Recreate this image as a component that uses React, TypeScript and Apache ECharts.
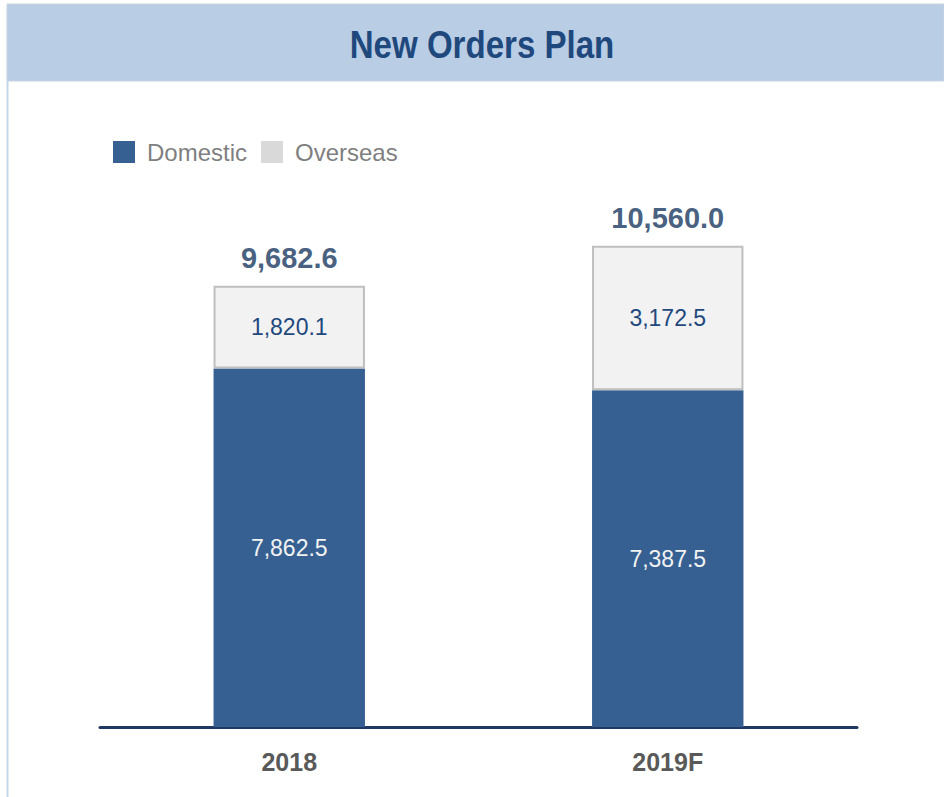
import React, { useEffect, useRef } from "react";
import * as echarts from "echarts";

const categories = ["2018", "2019F"];
const domestic = [7862.5, 7387.5];
const overseas = [1820.1, 3172.5];
const totals = [9682.6, 10560.0];
const titleText = "New Orders Plan";

const FONT = '"Liberation Sans", Arial, sans-serif';

const fmt = (v: number) =>
  v.toLocaleString("en-US", { minimumFractionDigits: 1, maximumFractionDigits: 1 });

export default function App() {
  const ref = useRef<HTMLDivElement>(null);
  useEffect(() => {
    if (!ref.current) return;
    const chart = echarts.init(ref.current, null, { renderer: "svg" });
    chart.setOption({
      animation: false,
      backgroundColor: "#ffffff",
      graphic: [
        {
          type: "rect",
          shape: { x: 7, y: 4, width: 937, height: 77 },
          style: { fill: "#b9cde5", stroke: "#c9d3de", lineWidth: 1 },
          z: 0,
        },
        {
          type: "line",
          shape: { x1: 7.5, y1: 81, x2: 7.5, y2: 797 },
          style: { stroke: "#c5d6ea", lineWidth: 2 },
        },
        {
          type: "text",
          x: 482,
          y: 45,
          scaleX: 0.87,
          style: {
            text: titleText,
            fill: "#1f497d",
            font: `bold 38px ${FONT}`,
            textAlign: "center",
            textVerticalAlign: "middle",
          },
          z: 10,
        },
      ],
      legend: {
        left: 108,
        top: 135,
        itemWidth: 22,
        itemHeight: 22,
        itemGap: 14,
        icon: "rect",
        textStyle: {
          fontFamily: FONT,
          fontSize: 24,
          color: "#7f7f7f",
          padding: [0, 0, 0, 7],
        },
        data: [
          { name: "Domestic", itemStyle: { color: "#366092" } },
          { name: "Overseas", itemStyle: { color: "#d9d9d9", borderWidth: 0 } },
        ],
      },
      grid: { left: 100, right: 87, top: 180, bottom: 70 },
      xAxis: {
        type: "category",
        data: categories,
        axisLine: { lineStyle: { color: "#1f3864", width: 3 } },
        axisTick: { show: false },
        axisLabel: {
          fontFamily: FONT,
          fontWeight: "bold",
          fontSize: 25,
          color: "#595959",
          margin: 22,
        },
      },
      yAxis: {
        type: "value",
        min: 0,
        max: 12000,
        show: false,
        splitLine: { show: false },
      },
      series: [
        {
          name: "Domestic",
          type: "bar",
          stack: "total",
          barWidth: "40%",
          data: domestic,
          itemStyle: { color: "#366092" },
          label: {
            show: true,
            position: "inside",
            formatter: (p: any) => fmt(p.value),
            fontFamily: FONT,
            fontSize: 23,
            color: "#f2f2f2",
          },
          z: 2,
        },
        {
          name: "Overseas",
          type: "bar",
          stack: "total",
          barWidth: "40%",
          data: overseas,
          itemStyle: { color: "#f2f2f2", borderColor: "#bfbfbf", borderWidth: 2 },
          label: {
            show: true,
            position: "inside",
            formatter: (p: any) => fmt(p.value),
            fontFamily: FONT,
            fontSize: 23,
            color: "#1f497d",
          },
          z: 2,
        },
        {
          name: "Total",
          type: "scatter",
          data: totals,
          symbolSize: 0,
          silent: true,
          label: {
            show: true,
            position: "top",
            distance: 13,
            formatter: (p: any) => fmt(p.value),
            fontFamily: FONT,
            fontWeight: "bold",
            fontSize: 29,
            color: "#17375e",
          },
          z: 3,
        },
      ],
    });
    return () => chart.dispose();
  }, []);
  return <div ref={ref} style={{ width: 944, height: 797, position: "absolute", left: 0, top: 0 }} />;
}
